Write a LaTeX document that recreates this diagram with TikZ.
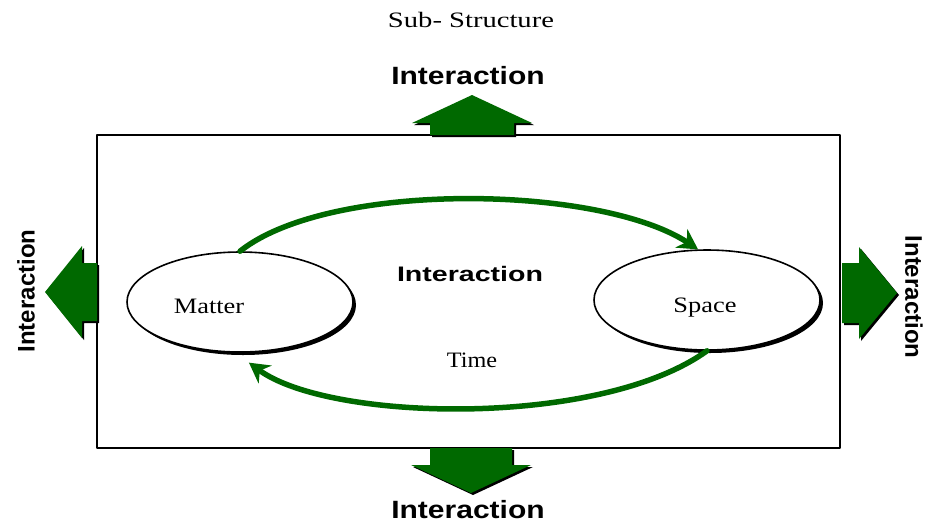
\documentclass[tikz,border=0pt]{standalone}
\usepackage{fontspec}
\setmainfont{Liberation Serif}
\setsansfont{Liberation Sans}
\usetikzlibrary{shapes.geometric,arrows.meta,shadows}
\definecolor{arrgreen}{RGB}{0,105,0}
\newcommand{\wide}[2]{\scalebox{#1}[1]{#2}}

\begin{document}
\begin{tikzpicture}[line cap=round,line join=round,x=1pt,y=-1pt,
	inter/.style={font=\sffamily\bfseries\fontsize{25}{28}\selectfont},
	word/.style={font=\fontsize{22}{25}\selectfont},
	blob/.style={ellipse,draw=black,line width=1.6pt,fill=white,minimum width=226pt,minimum height=100pt,inner sep=0pt,
		drop shadow={fill=black,opacity=1,shadow xshift=3pt,shadow yshift=-3pt}},
	flow/.style={arrgreen,line width=5.5pt,-{Stealth[length=20pt,width=22pt]}}]
	\useasboundingbox (0,0) rectangle (928,523);
	\draw[line width=1.5pt] (97,135) rectangle (840,448);
	% block arrows: base point / angle / shaft / head / shaft length / head length
	\foreach \px/\py/\ang/\sw/\hw/\sl/\hl in {472/135/90/42/60/12/28, 471/448/-90/41/60/17/28, 97/292/180/29/46/15/37, 842/293/0/30/46/17/38}{
		\fill[black,shift={(\px+2,\py+2)},rotate=\ang] (0,-\sw) -- (\sl,-\sw) -- (\sl,-\hw) -- (\sl+\hl,0) -- (\sl,\hw) -- (\sl,\sw) -- (0,\sw) -- cycle;
		\fill[arrgreen,shift={(\px,\py)},rotate=\ang] (0,-\sw) -- (\sl,-\sw) -- (\sl,-\hw) -- (\sl+\hl,0) -- (\sl,\hw) -- (\sl,\sw) -- (0,\sw) -- cycle;
	}
	\node[blob] (matter) at (240,302) {};
	\node[blob] (space) at (707,300) {};
	\node[word] (mattertxt) at (209,306) {\wide{1.2}{Matter}};
	\node[word] (spacetxt) at (705,308) {\wide{1.2}{Space}};
	\draw[flow] (matter.north) .. controls (330,180) and (600,185) .. (space.100);
	\draw[flow] (space.south) .. controls (600,428) and (330,422) .. ([yshift=-10pt]matter.-80);
	\node[word] (title) at (471,20) {\wide{1.3}{Sub- Structure}};
	\node[word] (time) at (472,360) {\wide{1.1}{Time}};
	\node[inter] (intop) at (468,76) {\wide{1.2}{Interaction}};
	\node[inter] (inbot) at (468,510) {\wide{1.2}{Interaction}};
	\node[inter,font=\sffamily\bfseries\fontsize{24}{27}\selectfont,rotate=90] (inleft) at (26,291) {Interaction};
	\node[inter,font=\sffamily\bfseries\fontsize{24}{27}\selectfont,rotate=-90] (inright) at (914,297) {Interaction};
	\node[inter,font=\sffamily\bfseries\fontsize{21}{24}\selectfont] (inmid) at (470,274) {\wide{1.36}{Interaction}};
\end{tikzpicture}
\end{document}
